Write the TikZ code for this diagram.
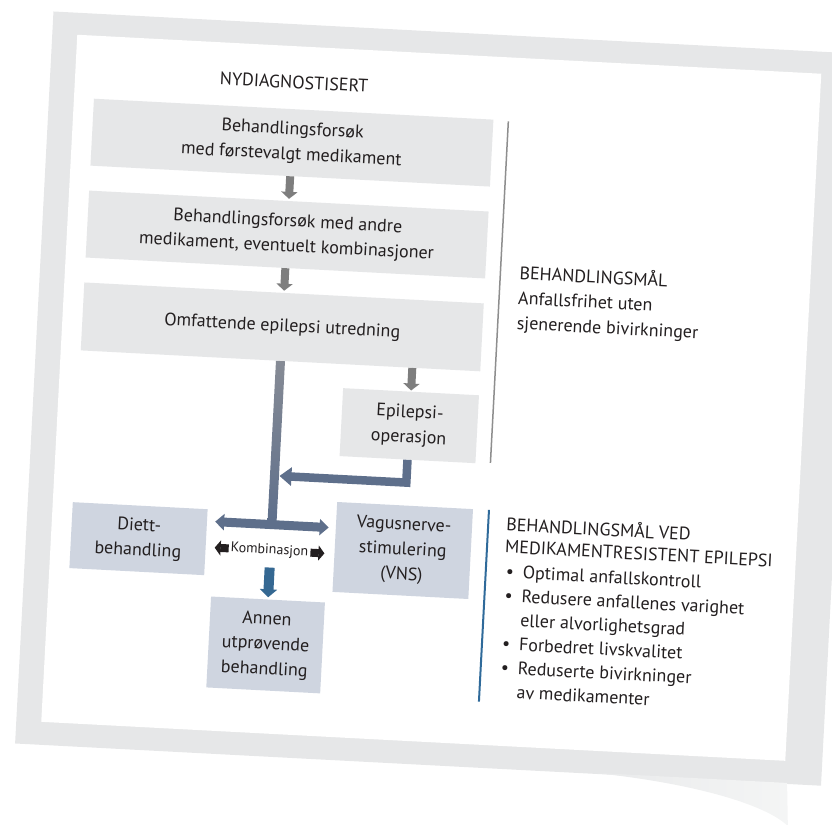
\documentclass[tikz,border=0pt]{standalone}
\usepackage{fontspec}
\setmainfont{PT Sans}
\usetikzlibrary{arrows.meta,calc}
\definecolor{framegray}{HTML}{E6E7E8}
\definecolor{curlgray}{HTML}{E9EAEB}
\definecolor{curllight}{HTML}{F4F5F5}
\definecolor{boxgray}{HTML}{E6E7E8}
\definecolor{boxblue}{HTML}{CFD5E0}
\definecolor{arrgray}{HTML}{7E7E7E}
\definecolor{slate}{HTML}{5E6F8B}
\definecolor{slatetop}{HTML}{868B95}
\definecolor{steel}{HTML}{356892}
\definecolor{ink}{HTML}{231F20}
\definecolor{divgray}{HTML}{8E8E8E}
\definecolor{divblue}{HTML}{2F6A9A}
\begin{document}
\begin{tikzpicture}[x=1pt,y=-1pt,
  txt/.style={font=\fontsize{18}{25}\selectfont, text=ink, inner sep=0pt},
  topbox/.style={txt, fill=boxgray, minimum width=400pt, minimum height=67pt, align=center},
  smallbox/.style={txt, fill=boxgray, minimum width=136pt, minimum height=68pt, align=center},
  bluebox/.style={txt, fill=boxblue, align=center},
  grayarr/.style={draw=arrgray, line width=8pt, -{Triangle[width=16pt,length=7pt]}},
  slatearr/.style={draw=slate, line width=8.5pt, -{Triangle[width=18pt,length=12pt]}},
  dblarr/.style={draw=slate, line width=9pt, {Triangle[width=16pt,length=9pt]}-{Triangle[width=16pt,length=9pt]}},
  blkarr/.style={draw=ink, line width=8pt, -{Triangle[width=15pt,length=6pt]}},
  bluearr/.style={draw=steel, line width=10pt, -{Triangle[width=17pt,length=8pt]}},
  rtxt/.style={txt, anchor=base west},
  bul/.style={rtxt},
]
\useasboundingbox (0,0) rectangle (832,824);
\clip (0,0) rectangle (832,824);
\begin{scope}[rotate around={-3:(416,412)}, transform shape]
  % card
  \fill[framegray] (33,31) rectangle (840,764);
  \shade[left color=curlgray, right color=curllight]
    (612,763) .. controls (710,768) and (785,785) .. (809,806) -- (806,763) -- cycle;
  \fill[white] (58,53) rectangle (803,741);

  % heading
  \node[txt] (head) at (277,89) {NYDIAGNOSTISERT};

  % boxes
  \node[topbox] (b1) at (278,149.5) {Behandlingsforsøk\\med førstevalgt medikament};
  \node[topbox] (b2) at (278,241.5) {Behandlingsforsøk med andre\\medikament, eventuelt kombinasjoner};
  \node[topbox, minimum height=68pt] (b3) at (278,334) {Omfattende epilepsi utredning};
  \node[smallbox] (epi) at (410,426) {Epilepsi-\\operasjon};
  \node[bluebox, minimum width=135pt, minimum height=66pt] (diett) at (145.5,553) {Diett-\\behandling};
  \node[bluebox, minimum width=136pt, minimum height=90pt] (vns) at (410,551) {Vagusnerve-\\stimulering\\(VNS)};
  \node[bluebox, minimum width=114pt, minimum height=91pt] (annen) at (278,652.5) {Annen\\utprøvende\\behandling};
  \node[txt, font=\fontsize{14}{16}\selectfont] (komb) at (277,558) {Kombinasjon};

  % connectors
  \draw[grayarr, shorten >=2pt] (b1.south) -- (b2.north);
  \draw[grayarr, shorten >=2pt] (b2.south) -- (b3.north);
  \draw[grayarr, shorten >=1pt] (b3.south -| epi.north) -- (epi.north);
  \coordinate (split) at (278,532);
  \shade[top color=slatetop, bottom color=slate]
    ($(b3.south)+(-4.5,0)$) rectangle ($(split)+(4.5,0)$);
  \coordinate (ljoin) at (283,483);
  \draw[slatearr] (epi.south) |- (ljoin);
  \draw[dblarr] ($(diett.east |- split)+(8,0)$) -- ($(vns.west |- split)+(-7,0)$);
  \draw[blkarr] ($(komb.west)+(-2,0)$) -- ++(-14,0);
  \draw[blkarr] ($(komb.east)+(2,0)$) -- ++(14,0);
  \coordinate (bstart) at (278,575);
  \draw[bluearr, shorten >=2pt] (bstart) -- (annen.north);

  % dividers
  \coordinate (dg1) at (493,117);
  \coordinate (dg2) at (493,459);
  \draw[divgray, line width=1.5pt] (dg1) -- (dg2);
  \coordinate (db1) at (494,506);
  \coordinate (db2) at (494,698);
  \draw[divblue, line width=2pt] (db1) -- (db2);

  % right texts
  \node[rtxt] (m1) at (512,274) {BEHANDLINGSMÅL};
  \node[rtxt] (m2) at (512,299) {Anfallsfrihet uten};
  \node[rtxt] (m3) at (512,324) {sjenerende bivirkninger};

  \node[rtxt] (g1) at (512,526) {BEHANDLINGSMÅL VED};
  \node[rtxt] (g2) at (512,548) {MEDIKAMENTRESISTENT EPILEPSI};
  \node[bul] (i1) at (514,573) {\makebox[17pt][l]{•}Optimal anfallskontroll};
  \node[bul] (i2) at (514,597) {\makebox[17pt][l]{•}Redusere anfallenes varighet};
  \node[rtxt] (i2b) at (531,621) {eller alvorlighetsgrad};
  \node[bul] (i3) at (514,645) {\makebox[17pt][l]{•}Forbedret livskvalitet};
  \node[bul] (i4) at (514,669) {\makebox[17pt][l]{•}Reduserte bivirkninger};
  \node[rtxt] (i4b) at (531,693) {av medikamenter};
\end{scope}
\end{tikzpicture}
\end{document}
